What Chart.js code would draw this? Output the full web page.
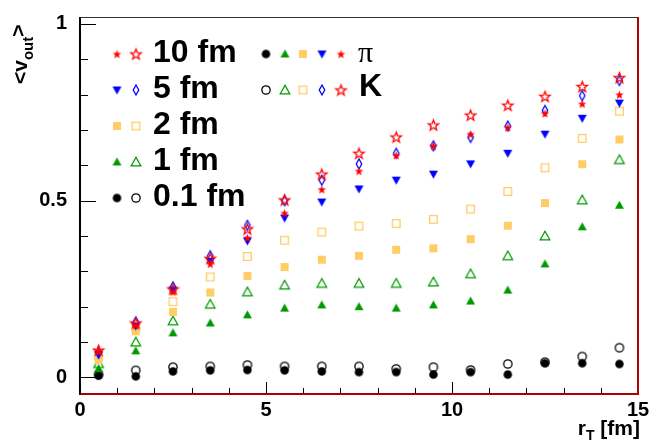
<!DOCTYPE html>
<html>
<head>
<meta charset="utf-8">
<script src="https://cdn.jsdelivr.net/npm/chart.js@4.4.0/dist/chart.umd.min.js"></script>
<style>
  html, body { margin: 0; padding: 0; background: #fff; }
  #wrap { width: 666px; height: 445px; }
</style>
</head>
<body>
<div id="wrap"><canvas id="chart" width="666" height="445"></canvas></div>
<script>
// r_T bin centres [fm]
const rT = [0.5, 1.5, 2.5, 3.5, 4.5, 5.5, 6.5, 7.5, 8.5, 9.5, 10.5, 11.5, 12.5, 13.5, 14.5];

// pions (filled markers)
const pi10 = [0.075, 0.148, 0.242, 0.321, 0.395, 0.465, 0.532, 0.584, 0.628, 0.655, 0.688, 0.707, 0.747, 0.774, 0.800];
const pi5 = [0.064, 0.145, 0.247, 0.328, 0.386, 0.451, 0.496, 0.533, 0.558, 0.575, 0.604, 0.634, 0.688, 0.733, 0.776];
const pi2 = [0.049, 0.130, 0.185, 0.240, 0.287, 0.312, 0.333, 0.344, 0.361, 0.365, 0.391, 0.429, 0.493, 0.603, 0.673];
const pi1 = [0.025, 0.075, 0.126, 0.154, 0.177, 0.196, 0.205, 0.200, 0.196, 0.205, 0.216, 0.247, 0.321, 0.426, 0.487];
const pi01 = [0.005, 0.003, 0.017, 0.020, 0.021, 0.020, 0.017, 0.015, 0.015, 0.008, 0.015, 0.008, 0.040, 0.040, 0.038];

// kaons (open markers)
const k10 = [0.077, 0.154, 0.250, 0.337, 0.420, 0.502, 0.575, 0.634, 0.680, 0.714, 0.742, 0.770, 0.795, 0.823, 0.848];
const k5 = [0.070, 0.157, 0.256, 0.344, 0.430, 0.500, 0.558, 0.604, 0.634, 0.655, 0.679, 0.711, 0.755, 0.797, 0.840];
const k2 = [0.061, 0.140, 0.214, 0.284, 0.342, 0.388, 0.411, 0.428, 0.435, 0.447, 0.476, 0.526, 0.593, 0.676, 0.753];
const k1 = [0.039, 0.100, 0.160, 0.207, 0.242, 0.261, 0.266, 0.266, 0.266, 0.270, 0.293, 0.344, 0.400, 0.502, 0.616];
const k01 = [0.008, 0.020, 0.029, 0.031, 0.035, 0.031, 0.031, 0.031, 0.024, 0.029, 0.021, 0.038, 0.043, 0.059, 0.084];

const distLabels = ["10 fm", "5 fm", "2 fm", "1 fm", "0.1 fm"];
const xTicks = [0, 5, 10, 15];
const yTicks = [0, 0.5, 1];

const FONT = "'Liberation Sans', Arial, sans-serif";
const RED = "#ff0000", BLUE = "#0000ff", ORANGE = "#ffcc66", GREEN = "#009900", BLACK = "#000000";

// build a small canvas for each ROOT-like marker
function marker(kind, color, filled, size) {
    const s = Math.ceil(size) + 4;
    const c = document.createElement("canvas");
    c.width = s; c.height = s;
    const g = c.getContext("2d");
    const m = s / 2, r = size / 2;
    g.fillStyle = color;
    g.strokeStyle = color;
    g.lineWidth = 1.3;
    g.lineJoin = "miter";
    g.beginPath();
    if (kind === "circle") {
        g.arc(m, m, filled ? r : r - 0.6, 0, 2 * Math.PI);
    } else if (kind === "up") {
        g.moveTo(m, m - r);
        g.lineTo(m + r, m + r * 0.8);
        g.lineTo(m - r, m + r * 0.8);
        g.closePath();
    } else if (kind === "down") {
        g.moveTo(m, m + r);
        g.lineTo(m + r, m - r * 0.8);
        g.lineTo(m - r, m - r * 0.8);
        g.closePath();
    } else if (kind === "square") {
        if (filled) g.rect(m - r, m - r, size, size);
        else g.rect(m - r + 0.7, m - r + 0.7, size - 1.4, size - 1.4);
    } else if (kind === "diamond") {
        g.moveTo(m, m - r);
        g.lineTo(m + r * 0.55, m);
        g.lineTo(m, m + r);
        g.lineTo(m - r * 0.55, m);
        g.closePath();
    } else if (kind === "star") {
        for (let i = 0; i < 10; i++) {
            const a = -Math.PI / 2 + i * Math.PI / 5;
            const rr = i % 2 === 0 ? r : r * 0.42;
            const px = m + rr * Math.cos(a), py = m + 0.5 + rr * Math.sin(a);
            if (i === 0) g.moveTo(px, py); else g.lineTo(px, py);
        }
        g.closePath();
    }
    if (filled) g.fill(); else g.stroke();
    return c;
}

const piMarkers = [
    marker("star", RED, true, 9),
    marker("down", BLUE, true, 9),
    marker("square", ORANGE, true, 8),
    marker("up", GREEN, true, 9),
    marker("circle", BLACK, true, 8.5)
];
const kMarkers = [
    marker("star", RED, false, 11),
    marker("diamond", BLUE, false, 10),
    marker("square", ORANGE, false, 9),
    marker("up", GREEN, false, 9.5),
    marker("circle", BLACK, false, 9.5)
];

const piSeries = [pi10, pi5, pi2, pi1, pi01];
const kSeries = [k10, k5, k2, k1, k01];

function toPoints(arr) {
    return arr.map((v, i) => ({ x: rT[i], y: v }));
}

const datasets = [];
for (let i = 0; i < 5; i++) {
    datasets.push({
        label: distLabels[i] + " pi",
        data: toPoints(piSeries[i]),
        pointStyle: piMarkers[i],
        pointRadius: 4,
        showLine: false
    });
    datasets.push({
        label: distLabels[i] + " K",
        data: toPoints(kSeries[i]),
        pointStyle: kMarkers[i],
        pointRadius: 4,
        showLine: false
    });
}

// frame and inward ticks, ROOT style
const framePlugin = {
    id: "frame",
    beforeDatasetsDraw(chart) {
        const ctx = chart.ctx;
        const a = chart.chartArea;
        const xs = chart.scales.x, ys = chart.scales.y;
        ctx.save();
        ctx.strokeStyle = "#000";
        ctx.lineWidth = 1;
        // y ticks
        for (let v = 0; v <= 10; v++) {
            const py = Math.round(ys.getPixelForValue(v / 10)) + 0.5;
            const len = v % 5 === 0 ? 16 : 8;
            ctx.beginPath();
            ctx.moveTo(a.left, py);
            ctx.lineTo(a.left + len, py);
            ctx.stroke();
        }
        // x ticks
        for (let v = 0; v <= 15; v++) {
            const px = Math.round(xs.getPixelForValue(v)) + 0.5;
            const len = v % 5 === 0 ? 12 : 6;
            ctx.beginPath();
            ctx.moveTo(px, a.bottom);
            ctx.lineTo(px, a.bottom - len);
            ctx.stroke();
        }
        // top line
        ctx.strokeStyle = "#333";
        ctx.beginPath();
        ctx.moveTo(a.left, a.top + 0.5);
        ctx.lineTo(a.right, a.top + 0.5);
        ctx.stroke();
        // right and bottom lines
        ctx.strokeStyle = "#b00000";
        ctx.lineWidth = 2;
        ctx.beginPath();
        ctx.moveTo(a.right, a.top);
        ctx.lineTo(a.right, a.bottom);
        ctx.lineTo(a.left, a.bottom);
        ctx.stroke();
        // left axis
        ctx.strokeStyle = "#000";
        ctx.beginPath();
        ctx.moveTo(a.left, a.top);
        ctx.lineTo(a.left, a.bottom + 1);
        ctx.stroke();
        ctx.restore();
    }
};

// legend block and axis titles
const labelsPlugin = {
    id: "labels",
    afterDraw(chart) {
        const ctx = chart.ctx;
        ctx.save();
        ctx.fillStyle = "#000";

        // distance legend
        const rowY = [54, 90, 126, 162, 198];
        ctx.font = "bold 32px " + FONT;
        ctx.textBaseline = "alphabetic";
        ctx.textAlign = "left";
        for (let i = 0; i < 5; i++) {
            const pm = piMarkers[i], km = kMarkers[i];
            ctx.drawImage(pm, 117 - pm.width / 2, rowY[i] - pm.height / 2);
            ctx.drawImage(km, 136 - km.width / 2, rowY[i] - km.height / 2);
            ctx.fillText(distLabels[i], 153, rowY[i] + 8);
        }

        // particle legend
        const colX = [266, 285, 303, 322, 341];
        const order = [4, 3, 2, 1, 0];
        for (let j = 0; j < 5; j++) {
            const pm = piMarkers[order[j]], km = kMarkers[order[j]];
            ctx.drawImage(pm, colX[j] - pm.width / 2, 54 - pm.height / 2);
            ctx.drawImage(km, colX[j] - km.width / 2, 90 - km.height / 2);
        }
        ctx.font = "30px 'Liberation Serif', serif";
        ctx.fillText("\u03c0", 358, 62);
        ctx.font = "bold 32px " + FONT;
        ctx.fillText("K", 359, 96);

        // x title: r_T [fm]
        ctx.textAlign = "left";
        ctx.font = "bold 21px " + FONT;
        const wFm = ctx.measureText(" [fm]").width;
        const wR = ctx.measureText("r").width;
        ctx.font = "bold 14px " + FONT;
        const wT = ctx.measureText("T").width;
        const xEnd = 640;
        let x0 = xEnd - wFm - wT - wR;
        ctx.font = "bold 21px " + FONT;
        ctx.fillText("r", x0, 435);
        ctx.font = "bold 14px " + FONT;
        ctx.fillText("T", x0 + wR, 440);
        ctx.font = "bold 21px " + FONT;
        ctx.fillText(" [fm]", x0 + wR + wT, 435);

        // y title: <v_out>
        ctx.translate(27, 84);
        ctx.rotate(-Math.PI / 2);
        ctx.font = "bold 21px " + FONT;
        ctx.fillText("<v", 0, 0);
        let w = ctx.measureText("<v").width;
        ctx.font = "bold 15px " + FONT;
        ctx.fillText("out", w, 6);
        w += ctx.measureText("out").width;
        ctx.font = "bold 21px " + FONT;
        ctx.fillText(">", w, -2);
        ctx.restore();
    }
};

const tickFont = { family: FONT, size: 20, weight: "bold" };

new Chart(document.getElementById("chart"), {
    type: "scatter",
    data: { datasets: datasets },
    options: {
        responsive: false,
        animation: false,
        layout: { padding: { top: 11, right: 28, left: 0, bottom: 0 } },
        plugins: {
            legend: { display: false },
            tooltip: { enabled: false }
        },
        scales: {
            x: {
                type: "linear",
                min: 0,
                max: 15,
                grid: { display: false },
                border: { display: false },
                afterBuildTicks: s => { s.ticks = xTicks.map(v => ({ value: v })); },
                afterFit: s => { s.height = 51; },
                ticks: { font: tickFont, color: "#000", padding: -4, maxRotation: 0, autoSkip: false }
            },
            y: {
                type: "linear",
                min: -0.047,
                max: 1.0195,
                grid: { display: false },
                border: { display: false },
                afterBuildTicks: s => { s.ticks = yTicks.map(v => ({ value: v })); },
                afterFit: s => { s.width = 80; },
                ticks: { font: tickFont, color: "#000", padding: 5, autoSkip: false, callback: v => String(v) }
            }
        }
    },
    plugins: [framePlugin, labelsPlugin]
});
</script>
</body>
</html>
